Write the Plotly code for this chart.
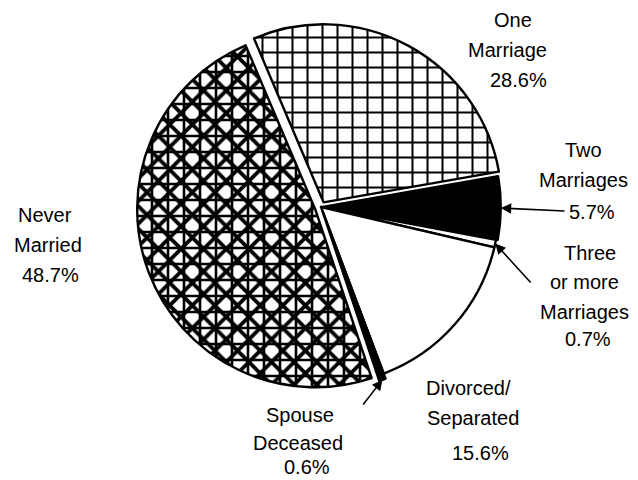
import math

import plotly.graph_objects as go

# data (percent of respondents)
categories = ["One Marriage", "Two Marriages", "Three or more Marriages",
              "Divorced/Separated", "Spouse Deceased", "Never Married"]
percents = [28.6, 5.7, 0.7, 15.6, 0.6, 48.7]

W, H = 638, 480
CX, CY, R = 321, 207, 178          # pie centre / radius in px
MAXPULL = 0.035
pulls = [0.03, 0.01, 0, 0, 0.03, MAXPULL]
ROT = -23                          # start angle of first slice, clockwise from 12 o'clock

half = R * (1 + MAXPULL)
dom_x = [(CX - half) / W, (CX + half) / W]
dom_y = [1 - (CY + half) / H, 1 - (CY - half) / H]

fills = ["white", "black", "white", "white", "black", "white"]

fig = go.Figure()
fig.add_trace(go.Pie(
    labels=categories, values=percents, sort=False, direction="clockwise",
    rotation=ROT, pull=pulls, textinfo="none", domain=dict(x=dom_x, y=dom_y),
    marker=dict(
        colors=fills, line=dict(color="black", width=2.4),
        pattern=dict(shape=["+", "", "", "", "", "x"],
                     size=[15, 10, 10, 10, 10, 16],
                     solidity=[0.25, 0.3, 0.3, 0.3, 0.3, 0.42],
                     fgcolor="black", bgcolor=fills, fillmode="replace"),
    ),
    showlegend=False,
))
# second layer on the Never Married slice to get the dense lattice look
fig.add_trace(go.Pie(
    labels=categories, values=percents, sort=False, direction="clockwise",
    rotation=ROT, pull=pulls, textinfo="none", domain=dict(x=dom_x, y=dom_y),
    hoverinfo="skip",
    marker=dict(
        colors=["rgba(0,0,0,0)"] * 6, line=dict(width=0),
        pattern=dict(shape=["", "", "", "", "", "+"], size=16, solidity=0.3,
                     fgcolor="black", bgcolor="rgba(0,0,0,0)"),
    ),
    showlegend=False,
))


def tip(i):
    """px coords of the outer edge at the middle of slice i"""
    total = sum(percents)
    start = sum(percents[:i]) / total * 360 + ROT
    mid = math.radians(start + percents[i] / total * 180)
    r = R * (1 + pulls[i])
    return CX + r * math.sin(mid), CY - r * math.cos(mid)


font = dict(family="Liberation Sans, Arial, sans-serif", size=20, color="black")
lines = [
    ("One", 513, 20), ("Marriage", 507, 50), ("28.6%", 518, 80),
    ("Two", 583, 150), ("Marriages", 583, 180), ("5.7%", 592, 212),
    ("Three", 590, 253), ("or more", 584, 282), ("Marriages", 584, 312), ("0.7%", 588, 339),
    ("Never", 45, 215), ("Married", 48, 245), ("48.7%", 50, 275),
    ("Divorced/", 468, 388), ("Separated", 473, 418), ("15.6%", 480, 453),
    ("Spouse", 300, 415), ("Deceased", 298, 443), ("0.6%", 307, 467),
]
for txt, px, py in lines:
    fig.add_annotation(text=txt, x=px / W, y=1 - py / H, xref="paper", yref="paper",
                       showarrow=False, font=font, xanchor="center", yanchor="middle")

# pointer arrows: (slice index, tail position in px)
pointers = [(1, 566, 211), (2, 532, 284), (4, 362, 406)]
for i, tx, ty in pointers:
    px, py = tip(i)
    fig.add_annotation(x=px / W, y=1 - py / H, xref="paper", yref="paper",
                       ax=tx - px, ay=ty - py, text="", showarrow=True,
                       arrowhead=2, arrowsize=1.3, arrowwidth=1.6, arrowcolor="black")

fig.update_layout(width=W, height=H, margin=dict(l=0, r=0, t=0, b=0),
                  paper_bgcolor="white", plot_bgcolor="white")
# page body has a default 8px margin; drop it so the figure fills the window
fig.write_html("out.html", config={"displayModeBar": False},
               post_script="document.body.style.margin='0px';")
